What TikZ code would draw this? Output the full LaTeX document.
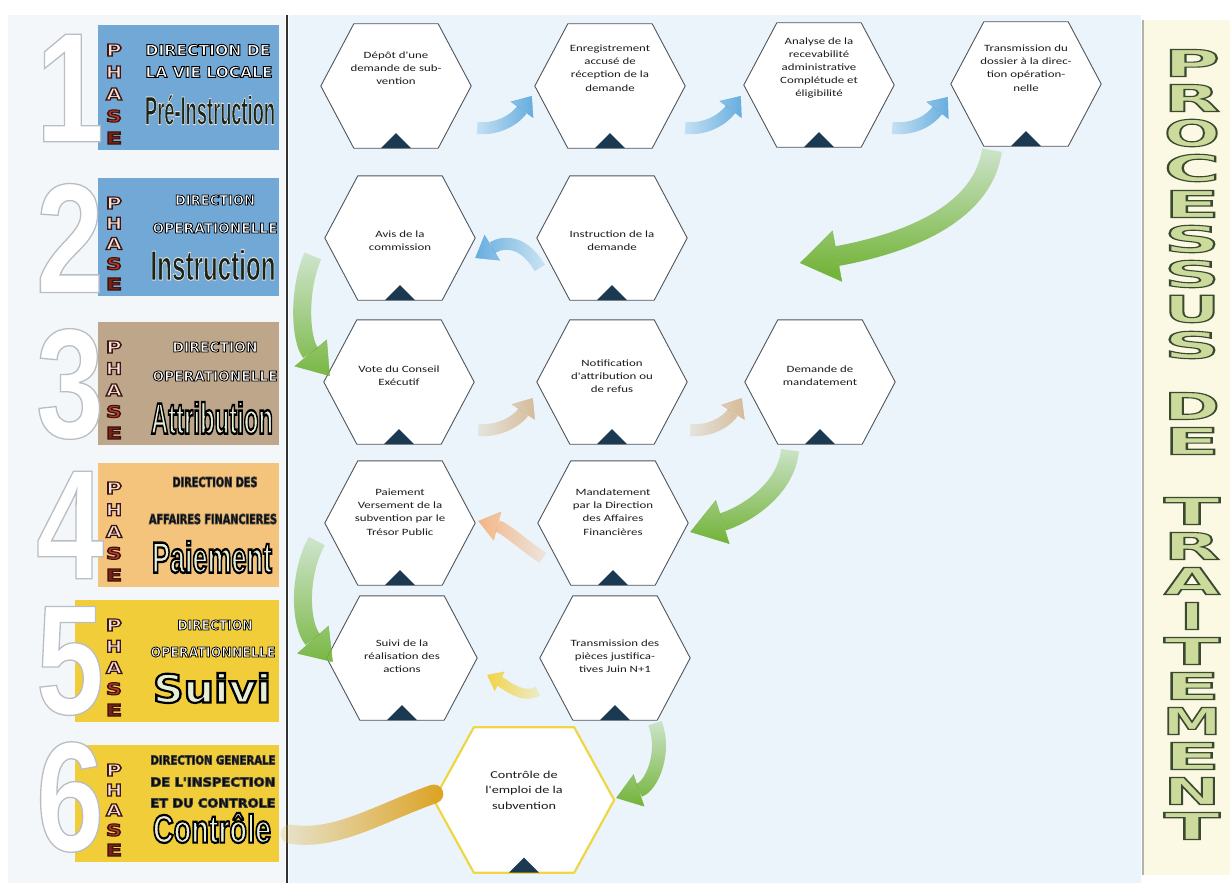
\documentclass[tikz,border=0pt]{standalone}
\usepackage{fontspec}
\usepackage{graphicx}
\setmainfont{Carlito}
\newfontfamily\hexfont[FakeStretch=1.34]{Carlito}
\newfontfamily\blkfont{DejaVu Sans}
\newfontfamily\narrowfont{Liberation Sans}
\newfontfamily\numfont[FakeStretch=0.78]{Liberation Sans}
\usetikzlibrary{arrows.meta,fadings,calc}

\definecolor{navy}{HTML}{1B3A52}
\definecolor{hexgray}{HTML}{50555C}
\definecolor{textgray}{HTML}{1C1C1C}
\definecolor{mainbg}{HTML}{EAF4FA}
\definecolor{leftbg}{HTML}{F3F7FA}
\definecolor{rightbg}{HTML}{FBF8E3}
\definecolor{boxblue}{HTML}{72A8D5}
\definecolor{boxtan}{HTML}{BEA68B}
\definecolor{boxorange}{HTML}{F5C47C}
\definecolor{boxyellow}{HTML}{F2CD3A}
\definecolor{phlight}{HTML}{F3E3DF}
\definecolor{phred}{HTML}{B83A2A}
\definecolor{phdark}{HTML}{7A2418}
\definecolor{phstroke}{HTML}{3E140C}
\definecolor{lettfill}{HTML}{CCDA9C}
\definecolor{lettstroke}{HTML}{3A4A30}
\definecolor{arrblue}{HTML}{5EA9DD}
\definecolor{arrtan}{HTML}{D6B994}
\definecolor{arrpeach}{HTML}{F5B27E}
\definecolor{arryellow}{HTML}{F3D23A}
\definecolor{arrgreen}{HTML}{74B43A}
\definecolor{arrgold}{HTML}{DDA323}
\definecolor{hexyellow}{HTML}{EED646}
\definecolor{wordlight}{HTML}{E6EFD6}
\definecolor{worddark}{HTML}{1A2418}
\definecolor{numgray}{HTML}{B9BEC4}

% outlined text: line width (bp), fill colour, stroke colour, text
\def\olsplit#1,#2,#3\relax{#1 #2 #3 }
\newcommand\outlined[4]{%
  \begingroup
  \extractcolorspecs{#3}{\olmodel}{\olspec}%
  \convertcolorspec{\olmodel}{\olspec}{rgb}\olrgb
  \color{#2}%
  \special{pdf:code #1 w 2 Tr \expandafter\olsplit\olrgb\relax RG}%
  #4%
  \special{pdf:code 0 Tr}%
  \endgroup}

% fadings: the tail of each swoosh is paler than its head
\tikzfading[name=tailleft, left color=transparent!80, right color=transparent!0]
\tikzfading[name=tailright, left color=transparent!0, right color=transparent!80]
\tikzfading[name=tailtop, top color=transparent!80, bottom color=transparent!0]

% hexagon outline around a named node, with the small navy triangle on its base
\newcommand\hexframe[3][33]{%
  \filldraw[#3] (#2.west) -- ([xshift=#1pt]#2.north west) -- ([xshift=-#1pt]#2.north east)
    -- (#2.east) -- ([xshift=-#1pt]#2.south east) -- ([xshift=#1pt]#2.south west) -- cycle;
  \fill[navy] ([xshift=-15pt]#2.south) -- ([xshift=15pt]#2.south) -- ([yshift=15pt]#2.south) -- cycle;}

% the stacked letters P H A S E of a phase box (top, bottom, tag)
\newcommand\phasecol[3]{%
  \foreach \L/\F [count=\i from 0] in {P/phlight,H/phlight,A/phlight,S/phred,E/phdark}{
    \node[inner sep=0pt] (phase#3-\i) at (114,{#1+25+\i*(#2-#1-37)/4})
      {\resizebox{16pt}{12pt}{\outlined{0.7}{\F}{phstroke}{\blkfont\bfseries\L}}};}}

\begin{document}
\begin{tikzpicture}[x=1pt,y=-1pt,
  hexnode/.style={minimum width=150pt,minimum height=124pt,inner sep=0pt,draw=none},
  bighex/.style={minimum width=180pt,minimum height=145pt,inner sep=0pt,draw=none},
  hextext/.style={font=\hexfont\fontsize{9.6}{13.2}\selectfont,align=center,text=textgray,inner sep=0pt},
  hexline/.style={draw=hexgray,line width=0.9pt,fill=white,line join=round},
  yhexline/.style={draw=hexyellow,line width=2.2pt,fill=white,line join=round},
  swoosh/.style args={#1/#2/#3}{line width=#1,-{Triangle[width=#2,length=#3,line width=0.4pt]}},
  dirline/.style={inner sep=0pt},
  phasenum/.style={inner sep=0pt,font=\numfont\bfseries\fontsize{156}{156}\selectfont},
]
\useasboundingbox (0,0) rectangle (1230,883);

% ---------- backgrounds ----------
\fill[white] (0,0) rectangle (1230,883);
\fill[leftbg] (8,15) rectangle (285,883);
\fill[mainbg] (289,15) rectangle (1141,883);
\fill[rightbg] (1143,20) rectangle (1230,875);
\draw[gray!60,line width=1.2pt] (1143,20) -- (1143,875);
\draw[black!80,line width=1.6pt] (287,15) -- (287,883);

% ---------- phase boxes ----------
\fill[boxblue]   (98,25)  rectangle (279,150);
\fill[boxblue]   (98,178) rectangle (279,296);
\fill[boxtan]    (98,322) rectangle (279,445);
\fill[boxorange] (98,463) rectangle (279,587);
\fill[boxyellow] (75,600) rectangle (279,722);
\fill[boxyellow] (75,745) rectangle (279,862);

% big phase numbers
\foreach \n/\yy in {1/88,2/238,3/384,4/525,5/661,6/797}{
  \node[phasenum] (num\n) at (70,\yy) {\outlined{1.3}{white}{numgray}{\n}};}

\phasecol{25}{150}{1}
\phasecol{178}{296}{2}
\phasecol{322}{445}{3}
\phasecol{463}{587}{4}
\phasecol{600}{722}{5}
\phasecol{745}{862}{6}

% phase 1
\node[dirline] (d1a) at (208,50) {\resizebox{125pt}{11pt}{\outlined{0.6}{white}{black}{\blkfont\bfseries DIRECTION DE}}};
\node[dirline] (d1b) at (209,72) {\resizebox{127pt}{11pt}{\outlined{0.6}{white}{black}{\blkfont\bfseries LA VIE LOCALE}}};
\node[dirline] (w1) at (210,110) {\resizebox*{130pt}{30pt}{\outlined{0.25}{worddark}{gray!25}{\narrowfont\bfseries Pré-Instruction}}};
% phase 2
\node[dirline] (d2a) at (215,200) {\resizebox{80pt}{10pt}{\outlined{0.6}{white}{black}{\blkfont\bfseries DIRECTION}}};
\node[dirline] (d2b) at (215,228) {\resizebox{125pt}{10pt}{\outlined{0.6}{white}{black}{\blkfont\bfseries OPERATIONELLE}}};
\node[dirline] (w2) at (213,265) {\resizebox*{125pt}{31pt}{\outlined{0.25}{worddark}{gray!25}{\narrowfont\bfseries Instruction}}};
% phase 3
\node[dirline] (d3a) at (215,347) {\resizebox{85pt}{10pt}{\outlined{0.6}{white}{black}{\blkfont\bfseries DIRECTION}}};
\node[dirline] (d3b) at (215,376) {\resizebox{125pt}{10pt}{\outlined{0.6}{white}{black}{\blkfont\bfseries OPERATIONELLE}}};
\node[dirline] (w3) at (212,418) {\resizebox*{122pt}{32pt}{\outlined{0.55}{wordlight}{black}{\narrowfont\bfseries Attribution}}};
% phase 4
\node[dirline] (d4a) at (215,482) {\resizebox{85pt}{10pt}{\outlined{0.7}{black}{black!75}{\blkfont\bfseries DIRECTION DES}}};
\node[dirline] (d4b) at (213,519) {\resizebox{128pt}{10pt}{\outlined{0.7}{black}{black!75}{\blkfont\bfseries AFFAIRES FINANCIERES}}};
\node[dirline] (w4) at (212,557) {\resizebox*{120pt}{32pt}{\outlined{0.55}{wordlight}{black}{\narrowfont\bfseries Paiement}}};
% phase 5
\node[dirline] (d5a) at (215,625) {\resizebox{75pt}{10pt}{\outlined{0.6}{white}{black}{\blkfont\bfseries DIRECTION}}};
\node[dirline] (d5b) at (213,652) {\resizebox{125pt}{10pt}{\outlined{0.6}{white}{black}{\blkfont\bfseries OPERATIONNELLE}}};
\node[dirline] (w5) at (212,688) {\resizebox*{118pt}{30pt}{\outlined{0.55}{wordlight}{black}{\blkfont\bfseries Suivi}}};
% phase 6
\node[dirline] (d6a) at (213,760) {\resizebox{125pt}{9pt}{\outlined{0.7}{black}{black!75}{\blkfont\bfseries DIRECTION GENERALE}}};
\node[dirline] (d6b) at (213,782) {\resizebox{125pt}{9pt}{\outlined{0.7}{black}{black!75}{\blkfont\bfseries DE L'INSPECTION}}};
\node[dirline] (d6c) at (213,803) {\resizebox{125pt}{9pt}{\outlined{0.7}{black}{black!75}{\blkfont\bfseries ET DU CONTROLE}}};
\node[dirline] (w6) at (212,828) {\resizebox*{118pt}{30pt}{\outlined{0.55}{wordlight}{black}{\narrowfont\bfseries Contrôle}}};

% ---------- process hexagons ----------
\node[hexnode] (h1)  at (396,86)  {};
\node[hexnode] (h2)  at (610,86)  {};
\node[hexnode] (h3)  at (819,85)  {};
\node[hexnode] (h4)  at (1026,84) {};
\node[hexnode] (h5)  at (400,238) {};
\node[hexnode] (h6)  at (612,238) {};
\node[hexnode] (h7)  at (399,382) {};
\node[hexnode] (h8)  at (612,382) {};
\node[hexnode] (h9)  at (820,382) {};
\node[hexnode] (h10) at (400,523) {};
\node[hexnode] (h11) at (613,523) {};
\node[hexnode] (h12) at (402,658) {};
\node[hexnode] (h13) at (615,658) {};
\node[bighex]  (h14) at (524,800) {};

\foreach \h in {h1,h2,h3,h4,h5,h6,h7,h8,h9,h10,h11,h12,h13}{\hexframe{\h}{hexline}}
\hexframe[40]{h14}{yhexline}

\node[hextext] (t1)  at ([yshift=18pt]h1.center)  {Dépôt d'une\\demande de sub-\\vention};
\node[hextext] (t2)  at ([yshift=18pt]h2.center)  {Enregistrement\\accusé de\\réception de la\\demande};
\node[hextext] (t3)  at ([yshift=17pt]h3.center)  {Analyse de la\\recevabilité\\administrative\\Complétude et\\éligibilité};
\node[hextext] (t4)  at ([yshift=16pt]h4.center)  {Transmission du\\dossier à la direc-\\tion opération-\\nelle};
\node[hextext] (t5)  at ([yshift=-3pt]h5.center)  {Avis de la\\commission};
\node[hextext] (t6)  at ([yshift=-3pt]h6.center)  {Instruction de la\\demande};
\node[hextext] (t7)  at ([yshift=6pt]h7.center)   {Vote du Conseil\\Exécutif};
\node[hextext] (t8)  at ([yshift=6pt]h8.center)   {Notification\\d'attribution ou\\de refus};
\node[hextext] (t9)  at ([yshift=6pt]h9.center)   {Demande de\\mandatement};
\node[hextext] (t10) at ([yshift=11pt]h10.center) {Paiement\\Versement de la\\subvention par le\\Trésor Public};
\node[hextext] (t11) at ([yshift=11pt]h11.center) {Mandatement\\par la Direction\\des Affaires\\Financières};
\node[hextext] (t12) at ([yshift=2pt]h12.center)  {Suivi de la\\réalisation des\\actions};
\node[hextext] (t13) at ([yshift=2pt]h13.center)  {Transmission des\\pièces justifica-\\tives Juin N+1};
\node[hextext,font=\hexfont\fontsize{10.6}{15.5}\selectfont] (t14) at ([yshift=10pt]h14.center) {Contrôle de\\l'emploi de la\\subvention};

% ---------- connectors ----------
\coordinate (g1end) at (800,263);
% row 1, blue
\draw[arrblue,swoosh=12pt/28pt/17pt,path fading=tailleft]
  ([shift={(6,42)}]h1.east) .. controls (500,130) and (516,118) .. ([shift={(-3,10)}]h2.west);
\draw[arrblue,swoosh=12pt/28pt/17pt,path fading=tailleft]
  ([shift={(0,42)}]h2.east) .. controls (708,130) and (724,118) .. ([shift={(-3,11)}]h3.west);
\draw[arrblue,swoosh=12pt/28pt/17pt,path fading=tailleft]
  ([shift={(-2,43)}]h3.east) .. controls (915,130) and (930,120) .. ([shift={(-3,13)}]h4.west);
% down to row 2, green
\draw[arrgreen,swoosh=20pt/52pt/38pt,path fading=tailtop]
  ([shift={(-34,4)}]h4.south) .. controls (985,200) and (935,238) .. (g1end);
% row 2, blue, right to left
\draw[arrblue,swoosh=12pt/30pt/20pt,path fading=tailright]
  ([shift={(3,30)}]h6.west) .. controls (525,242) and (505,240) .. ([shift={(0,20)}]h5.east);
% down to row 3, green
\draw[arrgreen,swoosh=18pt/42pt/30pt,path fading=tailtop]
  ([shift={(-12,18)}]h5.west) .. controls (298,290) and (300,340) .. ([shift={(6,-6)}]h7.west);
% row 3, tan
\draw[arrtan,swoosh=12pt/28pt/17pt,path fading=tailleft]
  ([shift={(4,48)}]h7.east) .. controls (500,432) and (518,420) .. ([shift={(-4,16)}]h8.west);
\draw[arrtan,swoosh=12pt/28pt/17pt,path fading=tailleft]
  ([shift={(3,48)}]h8.east) .. controls (712,432) and (728,420) .. ([shift={(-3,16)}]h9.west);
% down to row 4, green
\draw[arrgreen,swoosh=18pt/46pt/34pt,path fading=tailtop]
  ([shift={(-30,6)}]h9.south) .. controls (786,490) and (745,515) .. ([shift={(2,9)}]h11.east);
% row 4, peach, right to left
\draw[arrpeach,swoosh=12pt/30pt/20pt,path fading=tailright]
  ([shift={(5,35)}]h11.west) .. controls (525,546) and (505,528) .. ([shift={(3,-2)}]h10.east);
% down to row 5, green
\draw[arrgreen,swoosh=18pt/42pt/30pt,path fading=tailtop]
  ([shift={(-8,18)}]h10.west) .. controls (298,575) and (300,625) .. ([shift={(6,4)}]h12.west);
% row 5, yellow, right to left
\draw[arryellow,swoosh=10pt/22pt/14pt,path fading=tailright]
  ([shift={(-2,33)}]h13.west) .. controls (522,700) and (505,684) .. ([shift={(10,17)}]h12.east);
% down to the control step, green
\draw[arrgreen,swoosh=14pt/34pt/24pt,path fading=tailtop]
  ([shift={(40,3)}]h13.south) .. controls (666,752) and (652,786) .. ([shift={(2,-2)}]h14.east);
% brush stroke into the control step
\coordinate (brushstart) at (290,834);
\draw[arrgold,line width=19pt,line cap=round,path fading=tailleft]
  (brushstart) .. controls (335,842) and (382,812) .. ([shift={(0,-6)}]h14.west);

% ---------- right column title ----------
\foreach \L/\yy/\ww [count=\i] in {P/63/56,R/98/56,O/133/56,C/168/56,E/204/56,S/239/56,S/274/56,U/309/56,S/345/56,
    D/406/56,E/441/56,T/511/56,R/546/56,A/581/56,I/616/24,T/651/56,E/686/56,M/721/58,E/756/56,N/791/56,T/826/56}{
  \node[inner sep=0pt] (title\i) at (1192,\yy)
    {\resizebox{\ww pt}{27pt}{\outlined{0.3}{lettfill}{lettstroke}{\blkfont\bfseries\L}}};}
\end{tikzpicture}
\end{document}
